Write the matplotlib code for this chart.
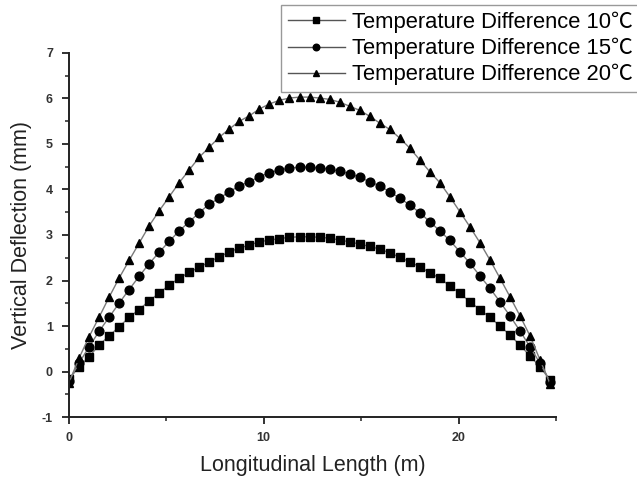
import numpy as np
import matplotlib
matplotlib.use("Agg")
import matplotlib.pyplot as plt
from matplotlib.ticker import MultipleLocator

plt.rcParams['font.family'] = ['Liberation Sans', 'Noto Sans CJK SC', 'DejaVu Sans']
plt.rcParams['axes.unicode_minus'] = False

# node positions along the span (m), 49 nodes
x = np.linspace(0, 24.7, 49)

dt10 = [-0.17, 0.10, 0.32, 0.58, 0.78, 0.98, 1.19, 1.36, 1.55, 1.72,
        1.90, 2.05, 2.18, 2.29, 2.41, 2.52, 2.63, 2.71, 2.78, 2.85,
        2.89, 2.92, 2.95, 2.96, 2.96, 2.95, 2.93, 2.89, 2.85, 2.80,
        2.75, 2.69, 2.61, 2.51, 2.41, 2.30, 2.17, 2.05, 1.88, 1.72,
        1.53, 1.36, 1.19, 1.00, 0.80, 0.58, 0.34, 0.10, -0.19]

dt15 = [-0.20, 0.18, 0.54, 0.88, 1.19, 1.50, 1.80, 2.09, 2.37, 2.62,
        2.86, 3.09, 3.29, 3.49, 3.68, 3.81, 3.95, 4.08, 4.17, 4.28,
        4.37, 4.43, 4.47, 4.49, 4.49, 4.47, 4.45, 4.40, 4.35, 4.27,
        4.17, 4.08, 3.95, 3.81, 3.66, 3.49, 3.29, 3.09, 2.88, 2.63,
        2.38, 2.10, 1.83, 1.53, 1.22, 0.89, 0.54, 0.18, -0.22]

dt20 = [-0.25, 0.29, 0.76, 1.19, 1.63, 2.05, 2.44, 2.82, 3.20, 3.53,
        3.84, 4.15, 4.43, 4.71, 4.93, 5.15, 5.33, 5.50, 5.62, 5.77,
        5.88, 5.96, 6.01, 6.03, 6.03, 6.01, 5.98, 5.92, 5.83, 5.74,
        5.61, 5.46, 5.32, 5.13, 4.91, 4.65, 4.39, 4.15, 3.84, 3.51,
        3.18, 2.83, 2.45, 2.05, 1.64, 1.22, 0.78, 0.25, -0.27]

series = [
    (dt10, 's', 'Temperature Difference 10℃'),
    (dt15, 'o', 'Temperature Difference 15℃'),
    (dt20, '^', 'Temperature Difference 20℃'),
]

fig = plt.figure(figsize=(6.37, 4.79), dpi=100)
ax = fig.add_axes([0.1082, 0.1294, 0.7646, 0.76])

for y, m, lab in series:
    ax.plot(x, y, color='#7a7a7a', lw=1.0, marker=m, markersize=6.3,
            markerfacecolor='black', markeredgecolor='black', label=lab)

ax.set_xlim(0, 25)
ax.set_ylim(-1, 7)
ax.xaxis.set_major_locator(MultipleLocator(10))
ax.xaxis.set_minor_locator(MultipleLocator(5))
ax.yaxis.set_major_locator(MultipleLocator(1))
ax.yaxis.set_minor_locator(MultipleLocator(0.5))

for s in ['top', 'right']:
    ax.spines[s].set_visible(False)
for s in ['left', 'bottom']:
    ax.spines[s].set_linewidth(1.4)
    ax.spines[s].set_color('#222222')

ax.tick_params(which='major', direction='out', length=5, width=1.3, color='#222222',
               labelsize=9, labelcolor='#333333')
ax.tick_params(axis='y', which='major', pad=6.5)
ax.tick_params(axis='x', which='major', pad=5.5)
ax.tick_params(which='minor', direction='out', length=3, width=1.1, color='#222222')
for t in ax.get_xticklabels() + ax.get_yticklabels():
    t.set_fontweight('bold')

ax.set_xlabel('Longitudinal Length (m)', fontsize=15.5, color='#222222', labelpad=8)
ax.set_ylabel('Vertical Deflection (mm)', fontsize=15.5, color='#222222', labelpad=7)

leg = ax.legend(loc='upper left', bbox_to_anchor=(281 / 637, 1 - 5 / 479),
                bbox_transform=fig.transFigure, prop={'size': 15.8}, frameon=True,
                fancybox=False, edgecolor='#808080', borderaxespad=0,
                handlelength=2.6, handletextpad=0.35, labelspacing=0.22,
                borderpad=0.3, markerscale=0.75)
leg.get_frame().set_linewidth(1.0)
for ln in leg.get_lines():
    ln.set_color('#555555')

fig.savefig('out.png', dpi=100)
